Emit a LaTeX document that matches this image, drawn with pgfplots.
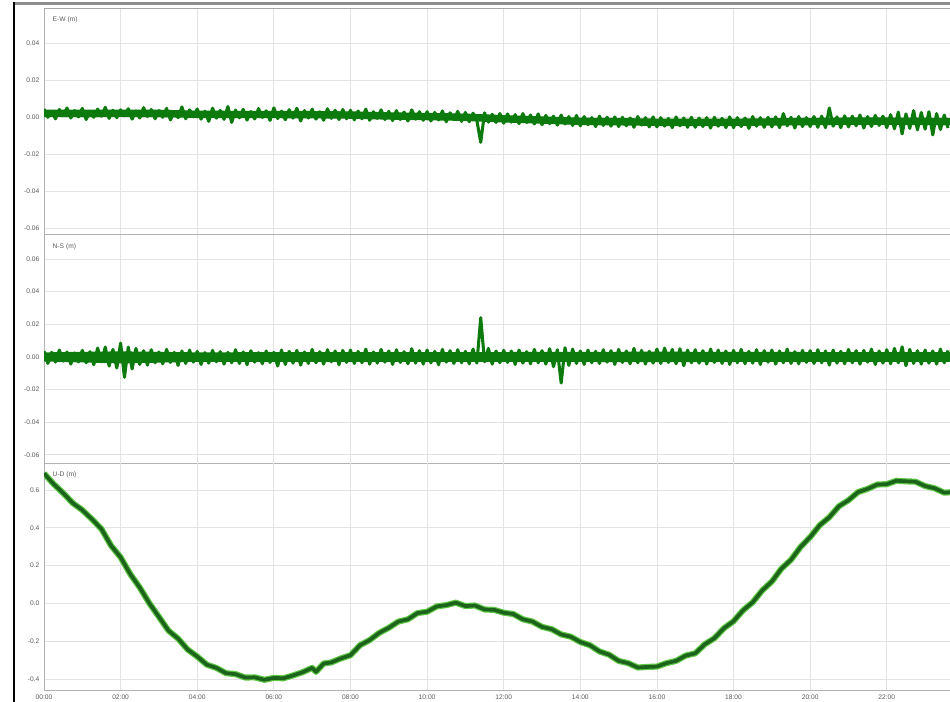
\documentclass[border=0pt]{standalone}
\usepackage{pgfplots}
\pgfplotsset{compat=1.18}
\usepackage{fontspec}
\setmainfont{Liberation Sans}
\definecolor{tr}{RGB}{12,122,12}
\definecolor{trdark}{RGB}{28,100,28}
\definecolor{trglow}{RGB}{95,200,70}
\pgfplotsset{panel/.style={
  scale only axis, width=679.5pt, xmin=0, xmax=23.65,
  xtick={0,2,...,22},
  grid=major, major grid style={draw=black!11, line width=0.6pt},
  major tick length=0pt,
  axis lines*=left, axis line style={-, draw=black!30, line width=0.7pt},
  tick label style={font=\fontsize{5}{6}\selectfont, text=black!65},
  clip=true,
}}
\begin{document}
\begin{tikzpicture}
\path[use as bounding box] (0,0) rectangle (712.5pt,526.5pt);
% panel 1
\begin{axis}[panel, at={(33pt,351pt)}, anchor=south west, height=169.5pt,
  ymin=-63, ymax=59, ytick={-60,-40,-20,0,20,40},
  yticklabels={-0.06,-0.04,-0.02,0.00,0.02,0.04}, xticklabels={}]
\addplot[fill=tr, draw=none] coordinates {
(0,4.2)(1,4.1)(2,4.2)(3,4.1)(4,3.6)(5,3.5)(6,3.5)(7,3.4)(8,3.2)(9,2.7)(10,2.4)(11,2)(12,1.2)(13,0.5)(14,-0.2)(15,-0.4)(16,-0.7)(17,-0.8)(18,-0.7)(19,-0.5)(20,-0.3)(21,-0.1)(22,-0.1)(23,-0.2)(23.65,-0.4)
(23.65,-4.4)(23,-4.2)(22,-4.1)(21,-4.1)(20,-4.3)(19,-4.5)(18,-4.7)(17,-4.8)(16,-4.7)(15,-4.4)(14,-4.2)(13,-3.5)(12,-2.8)(11,-2)(10,-1.6)(9,-1.3)(8,-0.8)(7,-0.6)(6,-0.5)(5,-0.5)(4,-0.4)(3,0.1)(2,0.2)(1,0.1)(0,0.2)
} -- cycle;
\addplot[tr, line width=2.3pt, line join=round] coordinates {
(0,4.5)(0.1,0)(0.2,3.2)(0.3,-0.8)(0.4,4.2)(0.5,1)(0.6,5)(0.7,-0.4)(0.8,3.6)(0.9,0.2)
(1,4.8)(1.1,-1.2)(1.2,3)(1.3,0)(1.4,4.4)(1.5,0.6)(1.6,5.4)(1.7,-0.6)(1.8,3.8)(1.9,-0.2)
(2,4)(2.1,0.8)(2.2,4.6)(2.3,-1)(2.4,3.4)(2.5,-0.4)(2.6,5.2)(2.7,0.4)(2.8,4.2)(2.9,-0.8)
(3,3.6)(3.1,0)(3.2,4.8)(3.3,-1.4)(3.4,3)(3.5,-0.2)(3.6,5.6)(3.7,-0.8)(3.8,4)(3.9,0.2)
(4,4.5)(4.1,-1)(4.2,3.3)(4.3,-2.2)(4.4,4.9)(4.5,-0.5)(4.6,3.7)(4.7,-1.1)(4.8,5.8)(4.9,-2.8)
(5,3.9)(5.1,-0.3)(5.2,4.3)(5.3,-1.5)(5.4,3.1)(5.5,-0.9)(5.6,4.7)(5.7,-0.1)(5.8,3.5)(5.9,-1.7)
(6,5.1)(6.1,-0.7)(6.2,3.3)(6.3,-1.3)(6.4,4.1)(6.5,-0.5)(6.6,4.9)(6.7,-2)(6.8,3.6)(6.9,-0.4)
(7,4.4)(7.1,-1)(7.2,3)(7.3,-1.6)(7.4,4.6)(7.5,-0.6)(7.6,3.8)(7.7,-1.2)(7.8,4.2)(7.9,-0.8)
(8,3.8)(8.1,-1.4)(8.2,3.4)(8.3,-0.8)(8.4,4.4)(8.5,-1.6)(8.6,3)(8.7,-0.6)(8.8,4)(8.9,-1.2)
(9,3.2)(9.1,-1.8)(9.2,3.6)(9.3,-1.2)(9.4,2.8)(9.5,-2)(9.6,4)(9.7,-1)(9.8,3)(9.9,-1.6)
(10,3)(10.1,-2)(10.2,2.6)(10.3,-1.4)(10.4,3.4)(10.5,-2.4)(10.6,2.4)(10.7,-1.2)(10.8,3.2)(10.9,-2.2)
(11,2.6)(11.1,-2.4)(11.2,2.2)(11.3,-1.8)(11.4,-13.5)(11.5,2.4)(11.6,-2.6)(11.7,1.6)(11.8,-2.8)(11.9,2)
(12,-3.2)(12.1,1.8)(12.2,-2.6)(12.3,1.4)(12.4,-3.4)(12.5,2)(12.6,-2.8)(12.7,1.2)(12.8,-3.6)(12.9,1.8)
(13,-4)(13.1,1)(13.2,-3.4)(13.3,0.6)(13.4,-4.2)(13.5,1.2)(13.6,-3.6)(13.7,0.4)(13.8,-4.4)(13.9,1)
(14,-4.6)(14.1,0.4)(14.2,-4)(14.3,-0.2)(14.4,-5)(14.5,0.6)(14.6,-4.4)(14.7,0)(14.8,-4.8)(14.9,0.2)
(15,-5)(15.1,0)(15.2,-4.6)(15.3,-0.4)(15.4,-5.4)(15.5,0.4)(15.6,-4.2)(15.7,-0.2)(15.8,-5.2)(15.9,0.2)
(16,-5.2)(16.1,-0.2)(16.2,-4.8)(16.3,-0.6)(16.4,-5.6)(16.5,0.2)(16.6,-4.6)(16.7,-0.4)(16.8,-5.4)(16.9,0)
(17,-5.4)(17.1,-0.4)(17.2,-5)(17.3,-0.2)(17.4,-5.8)(17.5,0)(17.6,-4.8)(17.7,-0.6)(17.8,-5.6)(17.9,0.2)
(18,-5.6)(18.1,-0.2)(18.2,-5)(18.3,-0.4)(18.4,-6)(18.5,0.4)(18.6,-4.8)(18.7,-0.2)(18.8,-5.4)(18.9,0)
(19,-5.2)(19.1,0.2)(19.2,-5.6)(19.3,2)(19.4,-4.6)(19.5,0)(19.6,-5.8)(19.7,0.4)(19.8,-5)(19.9,-0.2)
(20,-5)(20.1,0.4)(20.2,-5.4)(20.3,0.6)(20.4,-5.6)(20.5,5)(20.6,-4.8)(20.7,0.2)(20.8,-5.6)(20.9,0.8)
(21,-5.2)(21.1,0.6)(21.2,-4.6)(21.3,1.2)(21.4,-5.8)(21.5,0.4)(21.6,-5)(21.7,1)(21.8,-4.4)(21.9,0.6)
(22,-5.6)(22.1,1.4)(22.2,-6.2)(22.3,2.8)(22.4,-9)(22.5,1.8)(22.6,-6)(22.7,3.6)(22.8,-6.8)(22.9,2.6)
(23,-6.4)(23.1,3)(23.2,-9.5)(23.3,2)(23.4,-6.6)(23.5,1.2)(23.6,-5.8)
};
\node[anchor=north west, font=\fontsize{5}{6}\selectfont, text=black!65] at (axis description cs:0,1) [xshift=3pt,yshift=-3pt] {E-W (m)};
\end{axis}
% panel 2
\begin{axis}[panel, at={(33pt,179.25pt)}, anchor=south west, height=171pt,
  ymin=-65, ymax=74.7, ytick={-60,-40,-20,0,20,40,60},
  yticklabels={-0.06,-0.04,-0.02,0.00,0.02,0.04,0.06}, xticklabels={}]
\addplot[fill=tr, draw=none] coordinates {
(0,2.8)(2,3.4)(4,2.8)(8,3)(12,3)(16,3.2)(20,3)(23.65,3)
(23.65,-3)(20,-3)(16,-3.2)(12,-3)(8,-3)(4,-3)(2,-4)(0,-2.8)
} -- cycle;
\addplot[tr, line width=2.3pt, line join=round] coordinates {
(0,3.5)(0.1,-4)(0.2,2.8)(0.3,-3.2)(0.4,4.2)(0.5,-2.6)(0.6,3)(0.7,-4.4)(0.8,2.4)(0.9,-3)
(1,4)(1.1,-3.6)(1.2,3.2)(1.3,-4.8)(1.4,5.4)(1.5,-3)(1.6,6)(1.7,-5.6)(1.8,4.6)(1.9,-6.8)
(2,8.5)(2.1,-12.5)(2.2,6)(2.3,-7.4)(2.4,5.2)(2.5,-4.6)(2.6,3.8)(2.7,-5)(2.8,4.4)(2.9,-3.6)
(3,3)(3.1,-4.2)(3.2,4.6)(3.3,-3.4)(3.4,2.8)(3.5,-5.2)(3.6,3.6)(3.7,-4)(3.8,4.2)(3.9,-3.2)
(4,3.4)(4.1,-4.6)(4.2,2.6)(4.3,-3.8)(4.4,4)(4.5,-3)(4.6,3.2)(4.7,-4.4)(4.8,2.8)(4.9,-3.6)
(5,4.4)(5.1,-4)(5.2,3)(5.3,-4.8)(5.4,3.8)(5.5,-3.2)(5.6,2.6)(5.7,-4.2)(5.8,3.6)(5.9,-3.4)
(6,2.8)(6.1,-5.6)(6.2,4.2)(6.3,-4.6)(6.4,3.4)(6.5,-3.8)(6.6,4)(6.7,-5)(6.8,3)(6.9,-4)
(7,4.6)(7.1,-3.6)(7.2,3.2)(7.3,-4.4)(7.4,4.4)(7.5,-3)(7.6,3.6)(7.7,-4.8)(7.8,4)(7.9,-3.4)
(8,4.2)(8.1,-4)(8.2,3.4)(8.3,-3.6)(8.4,4.8)(8.5,-4.4)(8.6,3)(8.7,-3.8)(8.8,4.6)(8.9,-3.2)
(9,3.6)(9.1,-4.6)(9.2,4.4)(9.3,-3.4)(9.4,3.2)(9.5,-4.2)(9.6,5)(9.7,-3.8)(9.8,3.8)(9.9,-4.4)
(10,4.2)(10.1,-3.6)(10.2,3.4)(10.3,-4.8)(10.4,4.6)(10.5,-3.2)(10.6,3.8)(10.7,-4)(10.8,4.4)(10.9,-3.6)
(11,3.4)(11.1,-4.2)(11.2,4.8)(11.3,-3.8)(11.4,24)(11.5,-3)(11.6,5.2)(11.7,-4.4)(11.8,3.6)(11.9,-3.6)
(12,4)(12.1,-3.4)(12.2,3.6)(12.3,-4.6)(12.4,4.2)(12.5,-3.8)(12.6,3.2)(12.7,-4.2)(12.8,4.6)(12.9,-3.6)
(13,3.8)(13.1,-4.4)(13.2,5)(13.3,-6)(13.4,4.4)(13.5,-16)(13.6,5.6)(13.7,-5.2)(13.8,4.8)(13.9,-4)
(14,3.6)(14.1,-4.6)(14.2,4.2)(14.3,-3.6)(14.4,3.4)(14.5,-4)(14.6,4.4)(14.7,-3.2)(14.8,3.8)(14.9,-4.6)
(15,4.6)(15.1,-3.4)(15.2,3.6)(15.3,-4.2)(15.4,5.2)(15.5,-3.6)(15.6,4)(15.7,-4.4)(15.8,3.4)(15.9,-3.8)
(16,4.8)(16.1,-4)(16.2,5.4)(16.3,-3.4)(16.4,4.6)(16.5,-4.2)(16.6,5)(16.7,-5.4)(16.8,4.2)(16.9,-3.6)
(17,4.4)(17.1,-3.8)(17.2,3.8)(17.3,-4.4)(17.4,4.8)(17.5,-3.4)(17.6,4.2)(17.7,-4)(17.8,3.6)(17.9,-4.6)
(18,4)(18.1,-3.6)(18.2,4.6)(18.3,-4.2)(18.4,3.4)(18.5,-3.8)(18.6,4.4)(18.7,-4.6)(18.8,3.8)(18.9,-3.2)
(19,4.2)(19.1,-4.4)(19.2,3.6)(19.3,-3.6)(19.4,4.8)(19.5,-4)(19.6,3.2)(19.7,-4.2)(19.8,4)(19.9,-3.4)
(20,3.8)(20.1,-4)(20.2,4.4)(20.3,-3.6)(20.4,3.6)(20.5,-5)(20.6,4.2)(20.7,-3.8)(20.8,3.4)(20.9,-4.2)
(21,4.6)(21.1,-3.6)(21.2,3.8)(21.3,-4.4)(21.4,4)(21.5,-3.2)(21.6,4.8)(21.7,-4.6)(21.8,3.6)(21.9,-3.8)
(22,4.4)(22.1,-4.2)(22.2,5.2)(22.3,-3.6)(22.4,6.2)(22.5,-5.4)(22.6,4.6)(22.7,-4)(22.8,3.8)(22.9,-4.4)
(23,4.2)(23.1,-3.8)(23.2,3.6)(23.3,-4.4)(23.4,4.8)(23.5,-3.6)(23.6,4)
};
\node[anchor=north west, font=\fontsize{5}{6}\selectfont, text=black!65] at (axis description cs:0,1) [xshift=3pt,yshift=-3pt] {N-S (m)};
\end{axis}
% panel 3
\begin{axis}[panel, at={(33pt,9pt)}, anchor=south west, height=170.25pt,
  ymin=-0.458, ymax=0.743, ytick={-0.4,-0.2,0,0.2,0.4,0.6},
  yticklabels={-0.4,-0.2,0.0,0.2,0.4,0.6},
  xticklabels={00:00,02:00,04:00,06:00,08:00,10:00,12:00,14:00,16:00,18:00,20:00,22:00}]
\addplot[trglow, line width=4.6pt, line join=round] coordinates {
(0,0.688)(0.25,0.632)(0.5,0.584)(0.75,0.531)(1,0.494)(1.25,0.446)(1.5,0.394)(1.75,0.306)(2,0.244)(2.25,0.156)(2.5,0.084)(2.75,0.001)(3,-0.071)(3.25,-0.144)(3.5,-0.186)(3.75,-0.244)(4,-0.281)(4.25,-0.324)(4.5,-0.341)(4.75,-0.369)(5,-0.374)(5.25,-0.392)(5.5,-0.391)(5.75,-0.404)(6,-0.394)(6.25,-0.396)(6.5,-0.381)(6.75,-0.364)(7,-0.341)(7.1,-0.362)(7.3,-0.318)(7.5,-0.312)(7.75,-0.291)(8,-0.274)(8.25,-0.221)(8.5,-0.194)(8.75,-0.156)(9,-0.129)(9.25,-0.096)(9.5,-0.084)(9.75,-0.051)(10,-0.044)(10.25,-0.016)(10.5,-0.009)(10.75,0.004)(11,-0.014)(11.25,-0.011)(11.5,-0.032)(11.75,-0.034)(12,-0.049)(12.25,-0.056)(12.5,-0.084)(12.75,-0.096)(13,-0.124)(13.25,-0.136)(13.5,-0.164)(13.75,-0.176)(14,-0.204)(14.25,-0.221)(14.5,-0.254)(14.75,-0.271)(15,-0.304)(15.25,-0.316)(15.5,-0.339)(15.75,-0.336)(16,-0.334)(16.25,-0.316)(16.5,-0.304)(16.75,-0.276)(17,-0.264)(17.25,-0.216)(17.5,-0.184)(17.75,-0.131)(18,-0.094)(18.25,-0.036)(18.5,0.006)(18.75,0.069)(19,0.116)(19.25,0.184)(19.5,0.231)(19.75,0.299)(20,0.351)(20.25,0.414)(20.5,0.456)(20.75,0.514)(21,0.546)(21.25,0.589)(21.5,0.606)(21.75,0.629)(22,0.631)(22.25,0.649)(22.5,0.646)(22.75,0.644)(23,0.621)(23.25,0.609)(23.5,0.586)(23.65,0.588)
};
\addplot[trdark, line width=2.8pt, line join=round] coordinates {
(0,0.688)(0.25,0.632)(0.5,0.584)(0.75,0.531)(1,0.494)(1.25,0.446)(1.5,0.394)(1.75,0.306)(2,0.244)(2.25,0.156)(2.5,0.084)(2.75,0.001)(3,-0.071)(3.25,-0.144)(3.5,-0.186)(3.75,-0.244)(4,-0.281)(4.25,-0.324)(4.5,-0.341)(4.75,-0.369)(5,-0.374)(5.25,-0.392)(5.5,-0.391)(5.75,-0.404)(6,-0.394)(6.25,-0.396)(6.5,-0.381)(6.75,-0.364)(7,-0.341)(7.1,-0.362)(7.3,-0.318)(7.5,-0.312)(7.75,-0.291)(8,-0.274)(8.25,-0.221)(8.5,-0.194)(8.75,-0.156)(9,-0.129)(9.25,-0.096)(9.5,-0.084)(9.75,-0.051)(10,-0.044)(10.25,-0.016)(10.5,-0.009)(10.75,0.004)(11,-0.014)(11.25,-0.011)(11.5,-0.032)(11.75,-0.034)(12,-0.049)(12.25,-0.056)(12.5,-0.084)(12.75,-0.096)(13,-0.124)(13.25,-0.136)(13.5,-0.164)(13.75,-0.176)(14,-0.204)(14.25,-0.221)(14.5,-0.254)(14.75,-0.271)(15,-0.304)(15.25,-0.316)(15.5,-0.339)(15.75,-0.336)(16,-0.334)(16.25,-0.316)(16.5,-0.304)(16.75,-0.276)(17,-0.264)(17.25,-0.216)(17.5,-0.184)(17.75,-0.131)(18,-0.094)(18.25,-0.036)(18.5,0.006)(18.75,0.069)(19,0.116)(19.25,0.184)(19.5,0.231)(19.75,0.299)(20,0.351)(20.25,0.414)(20.5,0.456)(20.75,0.514)(21,0.546)(21.25,0.589)(21.5,0.606)(21.75,0.629)(22,0.631)(22.25,0.649)(22.5,0.646)(22.75,0.644)(23,0.621)(23.25,0.609)(23.5,0.586)(23.65,0.588)
};
\node[anchor=north west, font=\fontsize{5}{6}\selectfont, text=black!65] at (axis description cs:0,1) [xshift=3pt,yshift=-3pt] {U-D (m)};
\end{axis}
% outer frame
\draw[black!45, line width=2pt] (10.5pt,523.8pt) -- (712.5pt,523.8pt);
\draw[black!35, line width=0.7pt] (33pt,520.5pt) -- (712.5pt,520.5pt);
\draw[black, line width=2pt] (10.5pt,0pt) -- (10.5pt,524.8pt);
\end{tikzpicture}
\end{document}
